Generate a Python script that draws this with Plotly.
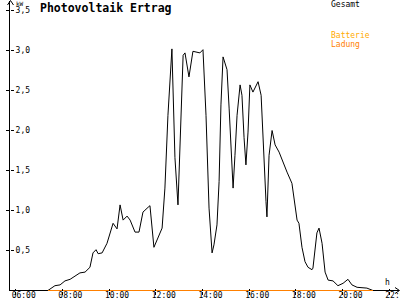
import plotly.graph_objects as go

# ---- data (decimal hours, kW) ----
hours = [7.38,7.47,7.68,7.90,8.11,8.33,8.54,8.75,8.97,9.18,
         9.31,9.44,9.53,9.70,9.91,10.04,10.17,10.34,10.47,10.60,
         10.77,10.90,11.11,11.28,11.45,11.67,11.75,11.92,12.09,12.27,
         12.39,12.52,12.69,12.82,12.95,13.04,13.17,13.25,13.42,13.59,
         13.76,13.89,14.02,14.15,14.28,14.41,14.49,14.62,14.71,14.79,
         14.88,15.05,15.14,15.26,15.31,15.39,15.48,15.61,15.69,15.78,
         15.86,15.95,16.03,16.16,16.38,16.51,16.59,16.72,16.76,16.85,
         16.98,17.11,17.28,17.53,17.62,17.83,17.92,18.05,18.13,18.26,
         18.39,18.52,18.69,18.73,18.90,18.99,19.12,19.25,19.38,19.59,
         19.80,20.02,20.23,20.40,20.62,21.04,21.30]
gesamt_kw = [0,0.02,0.06,0.07,0.12,0.14,0.18,0.22,0.23,0.29,
             0.47,0.51,0.46,0.47,0.59,0.73,0.84,0.77,1.07,0.88,
             0.93,0.88,0.73,0.73,0.98,1.04,1.06,0.54,0.66,0.78,
             1.28,2.19,3.02,1.66,1.07,1.78,2.94,2.97,2.67,2.99,
             2.98,2.97,3.01,2.19,1.03,0.47,0.57,0.82,1.36,2.32,
             2.92,2.76,2.28,1.48,1.28,1.69,2.19,2.57,2.44,1.91,
             1.57,1.98,2.57,2.48,2.61,2.44,1.86,1.11,0.92,1.69,
             2.00,1.82,1.73,1.53,1.48,1.34,1.16,0.88,0.84,0.54,
             0.36,0.29,0.26,0.28,0.72,0.78,0.59,0.23,0.13,0.12,
             0.06,0.09,0.14,0.07,0.04,0.03,0.0]
batterie_kw = [0.0] * len(hours)

x_tick_vals = [6, 8, 10, 12, 14, 16, 18, 20, 22]
x_tick_text = ["06:00", "08:00", "10:00", "12:00", "14:00", "16:00", "18:00", "20:00", "22:00"]
y_tick_vals = [0.5, 1.0, 1.5, 2.0, 2.5, 3.0, 3.5]

# ---- layout geometry (pixels) ----
W, H = 400, 300
L, R, T, B = 10, 1, 1, 9
PW, PH = W - L - R, H - T - B
PX_PER_H = 23.35
PX_PER_KW = 80.0
X0 = 6 - (15.7 - L) / PX_PER_H
X1 = X0 + PW / PX_PER_H
Y0 = -0.5 / PX_PER_KW
Y1 = Y0 + PH / PX_PER_KW

def pxx(px):
    return (px - L) / PW

def pxy(py):
    return (H - B - py) / PH

FONT = "DejaVu Sans Mono"

fig = go.Figure()
fig.add_trace(go.Scatter(x=hours, y=gesamt_kw, mode="lines", name="Gesamt",
                         line=dict(color="black", width=1), showlegend=False))
fig.add_trace(go.Scatter(x=hours, y=batterie_kw, mode="lines", name="Batterie Ladung",
                         xaxis="x2", yaxis="y2",
                         line=dict(color="#FF8000", width=1.2), showlegend=False))
# carrier for the inner tick marks of the x axis (not visible)
fig.add_trace(go.Scatter(x=hours[:1], y=batterie_kw[:1], mode="markers", xaxis="x3", yaxis="y",
                         marker=dict(opacity=0), hoverinfo="skip", showlegend=False))

common_x = dict(range=[X0, X1], showgrid=False, zeroline=False, showline=False,
                tickvals=x_tick_vals, tickcolor="black", automargin=False, fixedrange=True)
common_y = dict(range=[Y0, Y1], showgrid=False, fixedrange=True, automargin=False,
                tickvals=y_tick_vals, tickcolor="black")

fig.update_layout(
    width=W, height=H,
    margin=dict(l=L, r=R, t=T, b=B, autoexpand=False),
    paper_bgcolor="white", plot_bgcolor="white",
    separators=",.",
    font=dict(family=FONT, size=8, color="black"),
    title=dict(text="<b>Photovoltaik Ertrag</b>", x=40 / W, xanchor="left", xref="container",
               y=1 - 8 / H, yanchor="middle", yref="container",
               font=dict(family=FONT, size=11.5, color="black")),
    xaxis=dict(**common_x, ticks="", ticktext=x_tick_text, showticklabels=True,
               ticklabelshift=8, ticklabelstandoff=-2, ticklabeloverflow="allow",
               tickfont=dict(family=FONT, size=8)),
    xaxis2=dict(**common_x, overlaying="x", anchor="y", side="bottom",
                ticks="outside", ticklen=3, showticklabels=False),
    xaxis3=dict(**common_x, overlaying="x", anchor="y", side="bottom",
                ticks="inside", ticklen=2, showticklabels=False),
    yaxis=dict(**common_y, zeroline=True, zerolinecolor="black", zerolinewidth=1,
               showline=True, linecolor="black", linewidth=1,
               ticks="outside", ticklen=3, showticklabels=False),
    yaxis2=dict(**common_y, overlaying="y", anchor="free", position=0, side="right",
                zeroline=False, showline=False, ticks="outside", ticklen=3,
                showticklabels=True, tickformat=".1f",
                tickfont=dict(family=FONT, size=8)),
)

ann = [
    dict(text="kW", x=pxx(13.5), y=pxy(3), xanchor="left", yanchor="middle",
         font=dict(family=FONT, size=6, color="black")),
    dict(text="Gesamt", x=pxx(329), y=pxy(4.5), xanchor="left", yanchor="middle",
         font=dict(family=FONT, size=8, color="black")),
    dict(text="Batterie", x=pxx(329), y=pxy(35.5), xanchor="left", yanchor="middle",
         font=dict(family=FONT, size=8, color="#FFAA00")),
    dict(text="Ladung", x=pxx(329), y=pxy(44.5), xanchor="left", yanchor="middle",
         font=dict(family=FONT, size=8, color="#FF8000")),
    dict(text="h", x=pxx(387), y=pxy(282), xanchor="center", yanchor="middle",
         font=dict(family=FONT, size=8, color="black")),
]
for a in ann:
    a.update(xref="paper", yref="paper", showarrow=False)
    fig.add_annotation(**a)

# axis arrowheads
fig.add_shape(type="path", xref="paper", yref="paper",
              path=f"M {pxx(7.5)},{pxy(5)} L {pxx(10.5)},{pxy(0.5)} L {pxx(13.5)},{pxy(5)}",
              line=dict(color="black", width=1))
fig.add_shape(type="path", xref="paper", yref="paper",
              path=f"M {pxx(395)},{pxy(287.5)} L {pxx(399.5)},{pxy(290.5)} L {pxx(395)},{pxy(293.5)}",
              line=dict(color="black", width=1))

fig.write_html("out.html")
